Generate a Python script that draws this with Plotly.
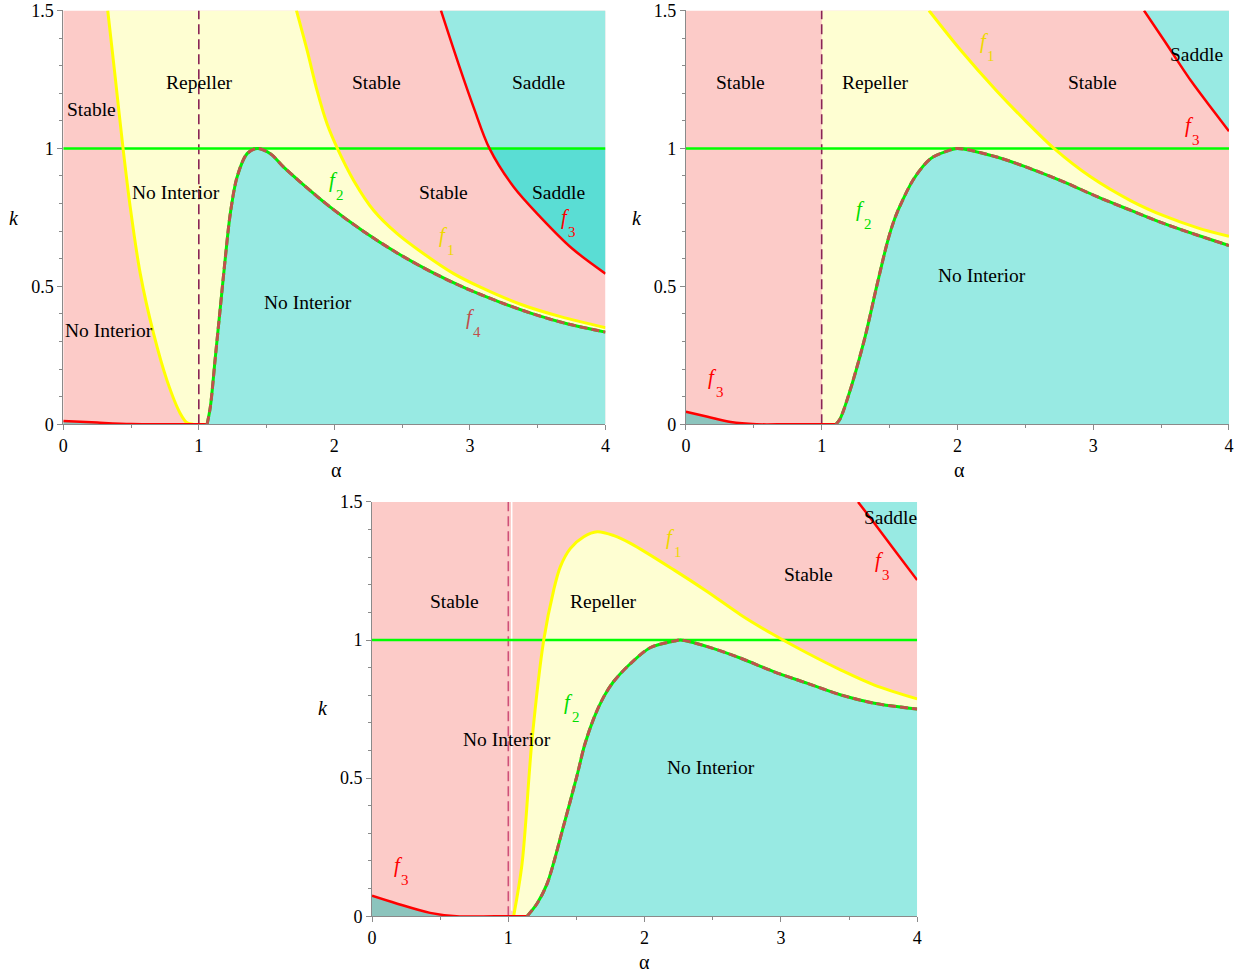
import plotly.graph_objects as go

# ---------------- axes ----------------
X_RANGE = [0.0, 4.0]
Y_RANGE = [0.0, 1.5]
X_TICKS = [0, 1, 2, 3, 4]
X_TICK_TEXT = ["0", "1", "2", "3", "4"]
Y_TICKS = [0, 0.5, 1, 1.5]
Y_TICK_TEXT = ["0", "0.5", "1", "1.5"]

K_LINE = 1.0       # horizontal boundary k = 1
ALPHA_LINE = 1.0   # vertical boundary alpha = 1

# ---------------- panel A (top left) ----------------
A_F1L_ALPHA = [0.328, 0.380, 0.441, 0.494, 0.568, 0.666, 0.765, 0.863, 0.913, 0.959]
A_F1L_K = [1.5, 1.272, 1.0, 0.787, 0.546, 0.329, 0.159, 0.039, 0.005, 0.0]
A_F1R_ALPHA = [1.720, 1.799, 1.872, 1.946, 2.022, 2.142, 2.290, 2.463, 2.659, 2.880, 3.077,
               3.373, 3.668, 4.0]
A_F1R_K = [1.5, 1.355, 1.210, 1.089, 1.0, 0.884, 0.775, 0.691, 0.618, 0.546, 0.497,
           0.435, 0.390, 0.350]
A_F4_ALPHA = [1.061, 1.085, 1.122, 1.159, 1.196, 1.232, 1.282, 1.356, 1.430, 1.528, 1.626,
              1.749, 1.970, 2.216, 2.463, 2.708, 2.954, 3.225, 3.471, 3.717, 4.0]
A_F4_K = [0.0, 0.063, 0.244, 0.425, 0.606, 0.763, 0.896, 0.981, 1.0, 0.981, 0.932,
          0.878, 0.787, 0.699, 0.621, 0.554, 0.496, 0.442, 0.399, 0.364, 0.334]
A_F3_ALPHA = [2.786, 2.920, 3.030, 3.144, 3.323, 3.520, 3.754, 4.0]
A_F3_K = [1.5, 1.300, 1.145, 1.0, 0.860, 0.751, 0.637, 0.546]
A_F3LO_ALPHA = [0.0, 0.25, 0.5, 0.75, 1.061]
A_F3LO_K = [0.012, 0.006, 0.001, 0.0, 0.0]

A_REGION_TEXT = ["Stable", "Repeller", "Stable", "Saddle", "No Interior", "Stable", "Saddle",
                 "No Interior", "No Interior"]
A_REGION_ALPHA = [0.207, 1.004, 2.31, 3.506, 0.834, 2.804, 3.653, 1.808, 0.339]
A_REGION_K = [1.141, 1.239, 1.239, 1.239, 0.841, 0.841, 0.841, 0.442, 0.341]
A_CURVE_TAGS = ["2", "1", "3", "4"]
A_CURVE_TAG_ALPHA = [1.993, 2.807, 3.705, 3.004]
A_CURVE_TAG_K = [0.884, 0.685, 0.75, 0.389]

# ---------------- panel B (top right) ----------------
B_F1_ALPHA = [1.790, 2.026, 2.284, 2.505, 2.711, 2.983, 3.278, 3.523, 3.769, 4.0]
B_F1_K = [1.5, 1.355, 1.211, 1.098, 1.0, 0.896, 0.810, 0.755, 0.712, 0.681]
B_F4_ALPHA = [1.105, 1.134, 1.191, 1.313, 1.407, 1.481, 1.520, 1.562, 1.680, 1.805, 1.928,
              2.0, 2.296, 2.541, 2.787, 3.033, 3.278, 3.523, 3.769, 4.0]
B_F4_K = [0.0, 0.018, 0.094, 0.304, 0.504, 0.655, 0.720, 0.775, 0.891, 0.964, 0.991,
          1.0, 0.968, 0.926, 0.878, 0.824, 0.775, 0.727, 0.685, 0.648]
B_F3_ALPHA = [3.374, 3.524, 3.720, 3.892, 4.0]
B_F3_K = [1.5, 1.390, 1.245, 1.132, 1.062]
B_F3LO_ALPHA = [0.0, 0.16, 0.33, 0.52, 0.75, 1.105]
B_F3LO_K = [0.045, 0.027, 0.008, 0.0, 0.0, 0.0]

B_REGION_TEXT = ["Stable", "Repeller", "Stable", "Saddle", "No Interior"]
B_REGION_ALPHA = [0.405, 1.40, 2.998, 3.764, 2.18]
B_REGION_K = [1.239, 1.239, 1.239, 1.341, 0.54]
B_CURVE_TAGS = ["2", "1", "3", "3"]
B_CURVE_TAG_ALPHA = [1.289, 2.197, 3.708, 0.197]
B_CURVE_TAG_K = [0.781, 1.391, 1.083, 0.171]

# ---------------- panel C (bottom) ----------------
C_F1_ALPHA = [1.039, 1.101, 1.174, 1.260, 1.333, 1.382, 1.456, 1.554, 1.652, 1.775, 1.897,
              2.215, 2.461, 2.706, 2.951, 3.196, 3.441, 3.686, 4.0]
C_F1_K = [0.0, 0.191, 0.638, 1.0, 1.181, 1.266, 1.332, 1.374, 1.392, 1.378, 1.350,
          1.254, 1.175, 1.091, 1.018, 0.952, 0.891, 0.837, 0.787]
C_F4_ALPHA = [1.138, 1.211, 1.285, 1.407, 1.505, 1.560, 1.630, 1.701, 1.770, 1.897, 2.044,
              2.215, 2.265, 2.461, 2.706, 2.951, 3.196, 3.441, 3.686, 4.0]
C_F4_K = [0.0, 0.046, 0.118, 0.330, 0.511, 0.620, 0.720, 0.795, 0.848, 0.915, 0.973,
          0.996, 1.0, 0.976, 0.934, 0.885, 0.843, 0.801, 0.771, 0.750]
C_F3_ALPHA = [3.566, 3.686, 3.833, 4.0]
C_F3_K = [1.5, 1.423, 1.326, 1.217]
C_F3LO_ALPHA = [0.0, 0.18, 0.426, 0.62, 1.0, 1.138]
C_F3LO_K = [0.074, 0.046, 0.012, 0.0, 0.0, 0.0]

C_REGION_TEXT = ["Stable", "Repeller", "Stable", "Saddle", "No Interior", "No Interior"]
C_REGION_ALPHA = [0.603, 1.699, 3.206, 3.801, 0.993, 2.485]
C_REGION_K = [1.141, 1.141, 1.239, 1.442, 0.641, 0.54]
C_CURVE_TAGS = ["1", "2", "3", "3"]
C_CURVE_TAG_ALPHA = [2.191, 1.443, 3.723, 0.194]
C_CURVE_TAG_K = [1.374, 0.776, 1.29, 0.185]

# ---------------- styling ----------------
PINK = "#FCCBC8"
YELLOW = "#FEFED2"
CYAN = "#98EAE3"
DARK_CYAN = "#5ADDD4"
GREY_TEAL = "#8CC4BD"
C_F1 = "#FFFF00"
C_F2 = "#00EE00"
C_F3 = "#FF0000"
C_F4 = "#C0504D"
TAG_COLORS = {"1": "#EED800", "2": "#00DD00", "3": "#FF0000", "4": "#C0504D"}
SERIF = "Liberation Serif"

fig = go.Figure()


def poly(xs, ks, color, ax):
    fig.add_trace(go.Scatter(x=xs, y=ks, mode="lines", fill="toself", fillcolor=color,
                             line=dict(width=0, color=color), hoverinfo="skip",
                             showlegend=False, xaxis="x" + ax, yaxis="y" + ax))


def curve(xs, ks, color, width, ax, dash="solid"):
    fig.add_trace(go.Scatter(x=xs, y=ks, mode="lines",
                             line=dict(color=color, width=width, dash=dash,
                                       shape="spline", smoothing=0.9),
                             hoverinfo="skip", showlegend=False,
                             xaxis="x" + ax, yaxis="y" + ax))


def background(ax):
    poly([X_RANGE[0], X_RANGE[1], X_RANGE[1], X_RANGE[0]],
         [Y_RANGE[0], Y_RANGE[0], Y_RANGE[1], Y_RANGE[1]], PINK, ax)


def guide_lines(ax, dash_color):
    curve([ALPHA_LINE, ALPHA_LINE], Y_RANGE, dash_color, 1.6, ax, dash="10px,5px")
    curve(X_RANGE, [K_LINE, K_LINE], "#00FF00", 2.5, ax)


def f4_line(f4a, f4k, ax):
    curve(f4a, f4k, C_F2, 3, ax)
    curve(f4a, f4k, C_F4, 3, ax, dash="8px,4px")


# ----- panel A -----
ax = ""
background(ax)
poly(A_F1L_ALPHA + A_F4_ALPHA + A_F1R_ALPHA[::-1],
     A_F1L_K + A_F4_K + A_F1R_K[::-1], YELLOW, ax)
poly(A_F4_ALPHA + [X_RANGE[1]], A_F4_K + [Y_RANGE[0]], CYAN, ax)
up = [i for i, k in enumerate(A_F3_K) if k >= K_LINE]
lo = [i for i, k in enumerate(A_F3_K) if k <= K_LINE]
poly([A_F3_ALPHA[i] for i in up] + [X_RANGE[1], X_RANGE[1]],
     [A_F3_K[i] for i in up] + [K_LINE, Y_RANGE[1]], CYAN, ax)
poly([A_F3_ALPHA[i] for i in lo] + [X_RANGE[1]],
     [A_F3_K[i] for i in lo] + [K_LINE], DARK_CYAN, ax)
poly(A_F3LO_ALPHA + [A_F3LO_ALPHA[0]], A_F3LO_K + [Y_RANGE[0]], GREY_TEAL, ax)
guide_lines(ax, "#8A2556")
curve(A_F1L_ALPHA, A_F1L_K, C_F1, 3, ax)
curve(A_F1R_ALPHA, A_F1R_K, C_F1, 3, ax)
curve(A_F3_ALPHA, A_F3_K, C_F3, 2.5, ax)
curve(A_F3LO_ALPHA, A_F3LO_K, C_F3, 2.5, ax)
f4_line(A_F4_ALPHA, A_F4_K, ax)

# ----- panel B -----
ax = "2"
background(ax)
poly([ALPHA_LINE, ALPHA_LINE] + B_F1_ALPHA + B_F4_ALPHA[::-1],
     [Y_RANGE[0], Y_RANGE[1]] + B_F1_K + B_F4_K[::-1], YELLOW, ax)
poly(B_F4_ALPHA + [X_RANGE[1]], B_F4_K + [Y_RANGE[0]], CYAN, ax)
poly(B_F3_ALPHA + [X_RANGE[1]], B_F3_K + [Y_RANGE[1]], CYAN, ax)
poly(B_F3LO_ALPHA + [B_F3LO_ALPHA[0]], B_F3LO_K + [Y_RANGE[0]], GREY_TEAL, ax)
guide_lines(ax, "#8A2556")
curve(B_F1_ALPHA, B_F1_K, C_F1, 3, ax)
curve(B_F3_ALPHA, B_F3_K, C_F3, 2.5, ax)
curve(B_F3LO_ALPHA, B_F3LO_K, C_F3, 2.5, ax)
f4_line(B_F4_ALPHA, B_F4_K, ax)

# ----- panel C -----
ax = "3"
background(ax)
poly(C_F1_ALPHA + C_F4_ALPHA[::-1], C_F1_K + C_F4_K[::-1], YELLOW, ax)
poly(C_F4_ALPHA + [X_RANGE[1]], C_F4_K + [Y_RANGE[0]], CYAN, ax)
poly(C_F3_ALPHA + [X_RANGE[1]], C_F3_K + [Y_RANGE[1]], CYAN, ax)
poly(C_F3LO_ALPHA + [C_F3LO_ALPHA[0]], C_F3LO_K + [Y_RANGE[0]], GREY_TEAL, ax)
# thin light seam just right of the alpha = 1 line
curve([ALPHA_LINE + 0.025, ALPHA_LINE + 0.025], [0.02, Y_RANGE[1]], "#FFFFFF", 1.5, ax)
guide_lines(ax, "#CF5078")
curve(C_F1_ALPHA, C_F1_K, C_F1, 3, ax)
curve(C_F3_ALPHA, C_F3_K, C_F3, 2.5, ax)
curve(C_F3LO_ALPHA, C_F3LO_K, C_F3, 2.5, ax)
f4_line(C_F4_ALPHA, C_F4_K, ax)

# ---------------- annotations ----------------
annotations = []


def region_labels(texts, alphas, ks, ax):
    for t, a, k in zip(texts, alphas, ks):
        annotations.append(dict(text=t, x=a, y=k, xref="x" + ax, yref="y" + ax,
                                xanchor="center", yanchor="middle", showarrow=False,
                                font=dict(family=SERIF, size=19.5, color="black")))


def curve_tags(tags, alphas, ks, ax):
    for t, a, k in zip(tags, alphas, ks):
        col = TAG_COLORS[t]
        annotations.append(dict(text="<i>f</i>", x=a, y=k, xref="x" + ax, yref="y" + ax,
                                xanchor="center", yanchor="middle", showarrow=False,
                                font=dict(family=SERIF, size=21, color=col)))
        annotations.append(dict(text=t, x=a, y=k, xref="x" + ax, yref="y" + ax,
                                xanchor="center", yanchor="middle",
                                xshift=7, yshift=-15, showarrow=False,
                                font=dict(family=SERIF, size=15, color=col)))


region_labels(A_REGION_TEXT, A_REGION_ALPHA, A_REGION_K, "")
region_labels(B_REGION_TEXT, B_REGION_ALPHA, B_REGION_K, "2")
region_labels(C_REGION_TEXT, C_REGION_ALPHA, C_REGION_K, "3")
curve_tags(A_CURVE_TAGS, A_CURVE_TAG_ALPHA, A_CURVE_TAG_K, "")
curve_tags(B_CURVE_TAGS, B_CURVE_TAG_ALPHA, B_CURVE_TAG_K, "2")
curve_tags(C_CURVE_TAGS, C_CURVE_TAG_ALPHA, C_CURVE_TAG_K, "3")

# axis titles (paper positions)
for xp, yp in [(0.2693, 0.5188), (0.7747, 0.5188), (0.5192, 0.0042)]:
    annotations.append(dict(text="α", x=xp, y=yp, xref="paper", yref="paper",
                            xanchor="center", yanchor="middle", showarrow=False,
                            font=dict(family=SERIF, size=20, color="black")))
for xp, yp in [(0.0073, 0.7823), (0.5127, 0.7823), (0.2585, 0.2698)]:
    annotations.append(dict(text="<i>k</i>", x=xp, y=yp, xref="paper", yref="paper",
                            xanchor="center", yanchor="middle", showarrow=False,
                            font=dict(family=SERIF, size=20, color="black")))

# ---------------- layout ----------------
tick_font = dict(family=SERIF, size=18, color="black")
AXIS_GREY = "#8a8a8a"


def xaxis(domain, anchor):
    return dict(domain=domain, anchor=anchor, range=X_RANGE, showline=True, linecolor=AXIS_GREY,
                linewidth=1, ticks="outside", ticklen=5, tickcolor=AXIS_GREY, tickvals=X_TICKS,
                ticktext=X_TICK_TEXT, tickfont=tick_font, showgrid=False, zeroline=False,
                fixedrange=True,
                minor=dict(dtick=0.5, tick0=0, ticks="outside", ticklen=3, tickcolor=AXIS_GREY))


def yaxis(domain, anchor):
    return dict(domain=domain, anchor=anchor, range=Y_RANGE, showline=True, linecolor=AXIS_GREY,
                linewidth=1, ticks="outside", ticklen=5, tickcolor=AXIS_GREY, tickvals=Y_TICKS,
                ticktext=Y_TICK_TEXT, tickfont=tick_font, showgrid=False, zeroline=False,
                fixedrange=True,
                minor=dict(dtick=0.1, tick0=0, ticks="outside", ticklen=3, tickcolor=AXIS_GREY))


# plot-area placement of the three panels
TOP_X_LEFT = [0.0473, 0.4874]
TOP_X_RIGHT = [0.5527, 0.9935]
BOTTOM_X = [0.2979, 0.7404]
TOP_Y = [0.5667, 0.9995]
BOTTOM_Y = [0.0521, 0.4854]

fig.update_layout(
    width=1241, height=976, autosize=False, margin=dict(l=0, r=0, t=0, b=0, pad=0),
    paper_bgcolor="white", plot_bgcolor="white", showlegend=False,
    xaxis=xaxis(TOP_X_LEFT, "y"),
    yaxis=yaxis(TOP_Y, "x"),
    xaxis2=xaxis(TOP_X_RIGHT, "y2"),
    yaxis2=yaxis(TOP_Y, "x2"),
    xaxis3=xaxis(BOTTOM_X, "y3"),
    yaxis3=yaxis(BOTTOM_Y, "x3"),
    annotations=annotations,
)

fig.write_html("out.html")
